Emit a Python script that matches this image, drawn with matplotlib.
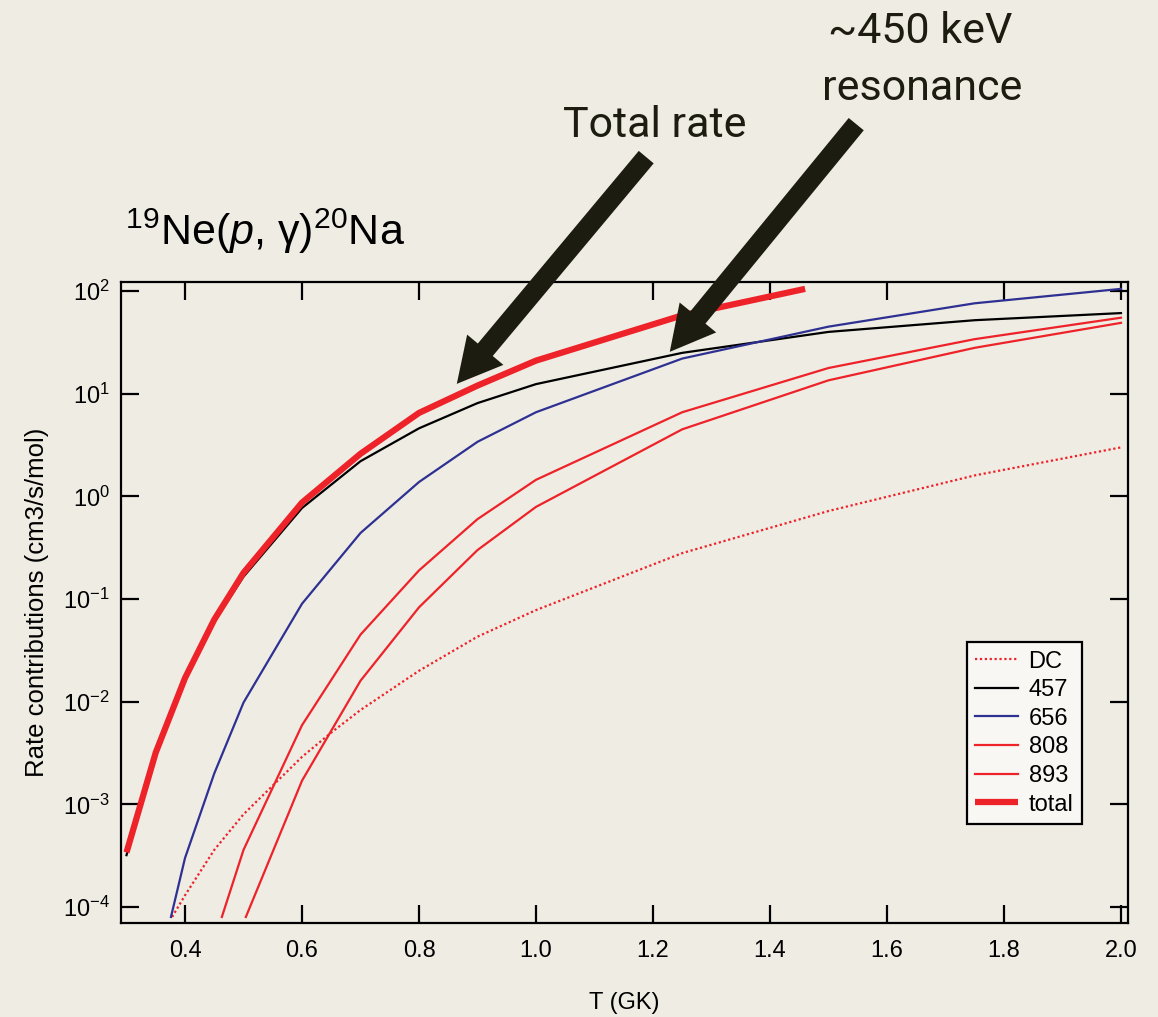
import matplotlib
matplotlib.use("Agg")
import matplotlib.pyplot as plt
from matplotlib.patches import FancyArrowPatch
from matplotlib.transforms import IdentityTransform
from matplotlib.ticker import LogFormatterMathtext, NullLocator

plt.rcParams['font.family'] = ['Liberation Sans', 'DejaVu Sans']
plt.rcParams['mathtext.fontset'] = 'custom'
plt.rcParams['mathtext.rm'] = 'Liberation Sans'
plt.rcParams['mathtext.it'] = 'Liberation Sans:italic'
plt.rcParams['mathtext.default'] = 'regular'
plt.rcParams['axes.unicode_minus'] = False

BG = '#EFECE4'
DARK = '#1C1C10'
RED = '#EE2229'
BLUE = '#2E3192'

# temperatures (GK) and rate contributions (cm3/s/mol)
T_dc = [0.378, 0.4, 0.45, 0.5, 0.6, 0.65, 0.7, 0.8, 0.9, 1.0, 1.25, 1.5, 1.75, 2.0]
r_dc = [8e-5, 1.3e-4, 3.6e-4, 8e-4, 2.9e-3, 5e-3, 8.3e-3, 0.02, 0.043, 0.078, 0.28, 0.72, 1.6, 3.0]

T_457 = [0.3, 0.35, 0.4, 0.45, 0.5, 0.6, 0.7, 0.8, 0.9, 1.0, 1.25, 1.5, 1.75, 2.0]
r_457 = [3.2e-4, 3.0e-3, 0.016, 0.06, 0.165, 0.77, 2.2, 4.6, 8.1, 12.4, 25, 40, 52, 61]

T_656 = [0.376, 0.4, 0.45, 0.5, 0.6, 0.7, 0.8, 0.9, 1.0, 1.25, 1.5, 1.75, 2.0]
r_656 = [8e-5, 3e-4, 2.0e-3, 9.8e-3, 0.09, 0.44, 1.38, 3.4, 6.6, 22, 45, 76, 105]

T_808 = [0.463, 0.5, 0.6, 0.7, 0.8, 0.9, 1.0, 1.25, 1.5, 1.75, 2.0]
r_808 = [8e-5, 3.6e-4, 5.9e-3, 0.045, 0.19, 0.6, 1.45, 6.6, 17.8, 34, 55]

T_893 = [0.504, 0.6, 0.7, 0.8, 0.9, 1.0, 1.25, 1.5, 1.75, 2.0]
r_893 = [8e-5, 1.7e-3, 0.016, 0.083, 0.30, 0.79, 4.5, 13.5, 28, 49]

T_tot = [0.3, 0.35, 0.4, 0.45, 0.5, 0.6, 0.7, 0.8, 0.9, 1.0, 1.25, 1.46]
r_tot = [3.4e-4, 3.2e-3, 0.017, 0.063, 0.18, 0.87, 2.6, 6.5, 12, 21, 58, 105]

x_ticks = [0.4, 0.6, 0.8, 1.0, 1.2, 1.4, 1.6, 1.8, 2.0]
y_ticks = [1e-4, 1e-3, 1e-2, 1e-1, 1e0, 1e1, 1e2]

fig = plt.figure(figsize=(11.58, 10.17), dpi=100, facecolor=BG)
ax = fig.add_axes([0.1045, 0.0924, 0.8696, 0.6303], facecolor=BG)

ax.plot(T_dc, r_dc, color=RED, lw=1.6, ls=(0, (1, 1.2)), label='DC')
ax.plot(T_457, r_457, color='black', lw=1.6, label='457')
ax.plot(T_656, r_656, color=BLUE, lw=1.6, label='656')
ax.plot(T_808, r_808, color=RED, lw=1.6, label='808')
ax.plot(T_893, r_893, color=RED, lw=1.6, label='893')
ax.plot(T_tot, r_tot, color=RED, lw=4.5, label='total', solid_capstyle='butt')

ax.set_yscale('log')
ax.set_xlim(0.2906, 2.012)
ax.set_ylim(10 ** -4.156, 10 ** 2.088)
ax.set_xticks(x_ticks)
ax.set_xticklabels(['%.1f' % v for v in x_ticks])
ax.set_yticks(y_ticks)
ax.yaxis.set_major_formatter(LogFormatterMathtext())
ax.yaxis.set_minor_locator(NullLocator())
ax.tick_params(direction='in', length=13, width=1.6, labelsize=17,
               top=True, right=True)
ax.tick_params(axis='x', pad=12)
ax.tick_params(axis='y', pad=8)
for s in ax.spines.values():
    s.set_linewidth(1.6)

ax.set_xlabel('T (GK)', fontsize=17, labelpad=22)
ax.set_ylabel('Rate contributions (cm3/s/mol)', fontsize=18.5, labelpad=10)

leg = ax.legend(loc='upper right', bbox_to_anchor=(0.954, 0.438), borderaxespad=0,
                fontsize=17, handlelength=1.8, labelspacing=0.28, handletextpad=0.45,
                borderpad=0.35, fancybox=False, framealpha=1, facecolor='#F8F7F3',
                edgecolor='black')
leg.get_frame().set_linewidth(1.6)

fig.text(0.108, 0.759, r'$^{19}$Ne($\mathit{p}$, $\gamma$)$^{20}$Na', fontsize=31,
         ha='left', va='baseline')

fig.text(655 / 1158, 1 - 137 / 1017, 'Total rate', fontsize=31, family='Roboto',
         color=DARK, ha='center', va='baseline')
fig.text(920 / 1158, 1 - 43 / 1017, '~450 keV', fontsize=31, family='Roboto',
         color=DARK, ha='center', va='baseline')
fig.text(922 / 1158, 1 - 100 / 1017, 'resonance', fontsize=31, family='Roboto',
         color=DARK, ha='center', va='baseline')

H = 1017
for tail, tip in [((648, H - 155), (455, H - 386)), ((858, H - 122), (668, H - 354))]:
    arr = FancyArrowPatch(tail, tip, transform=IdentityTransform(),
                          arrowstyle='simple,head_width=3.4,head_length=3.2,tail_width=1.4',
                          mutation_scale=10, color=DARK, lw=0)
    fig.add_artist(arr)

fig.savefig('out.png', dpi=100, facecolor=BG)
